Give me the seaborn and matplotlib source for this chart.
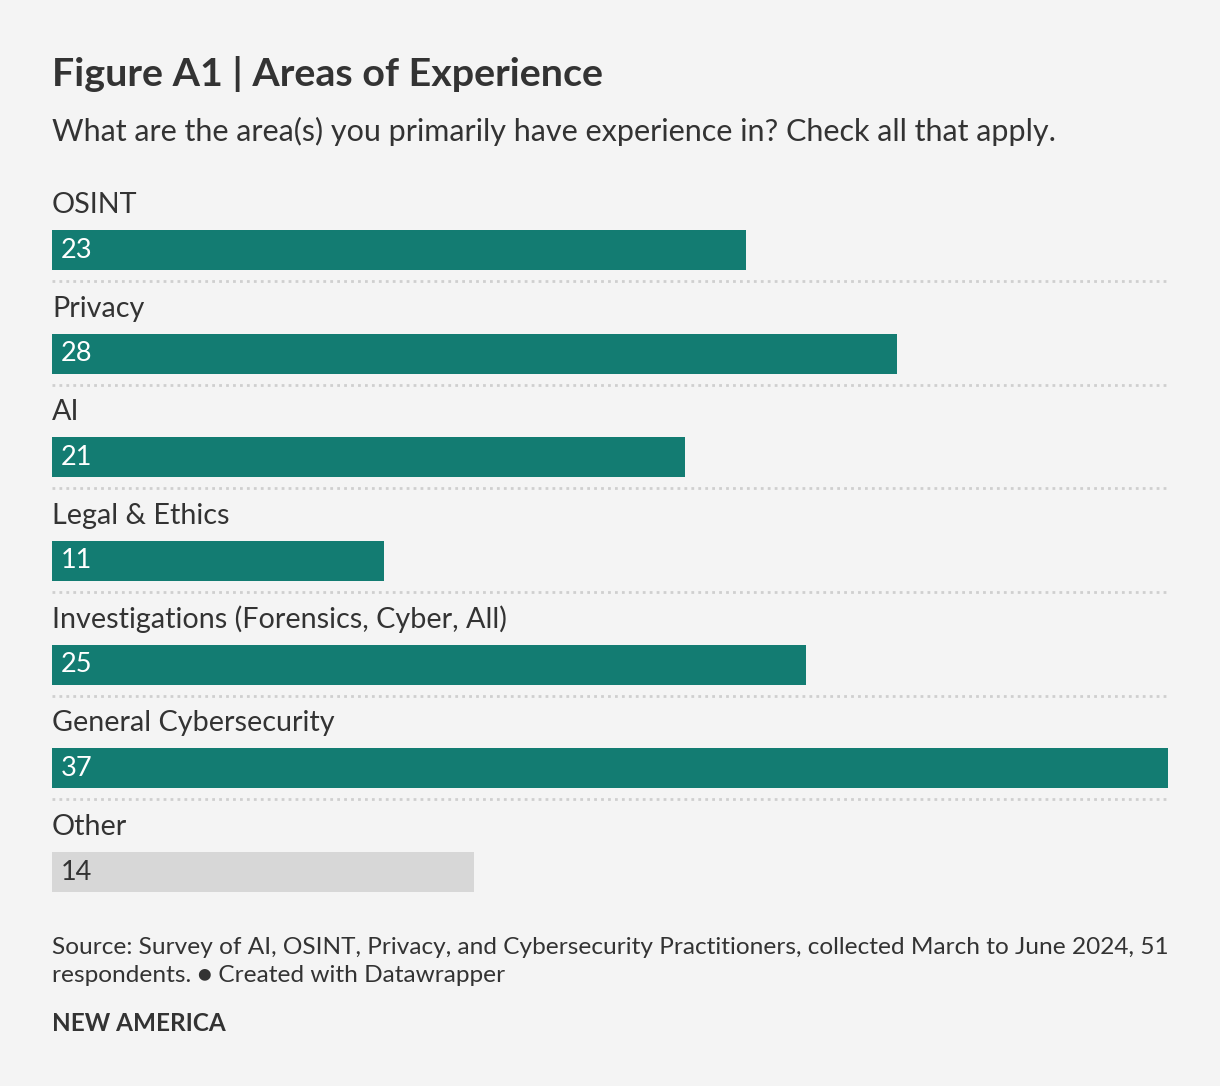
import numpy as np
import pandas as pd
import seaborn as sns
import matplotlib.pyplot as plt

categories = ["OSINT", "Privacy", "AI", "Legal & Ethics",
              "Investigations (Forensics, Cyber, All)", "General Cybersecurity", "Other"]
counts = [23, 28, 21, 11, 25, 37, 14]

TEAL = "#137C72"
GREY_BAR = "#D7D7D7"
BG = "#F4F4F4"
TEXT = "#333333"

W, H = 1220, 1086


def px(x, y):
    # pixel (top-left origin) -> figure fraction
    return x / W, 1 - y / H


def main():
    sns.set_theme(style="white")
    plt.rcParams["font.family"] = ["Lato", "DejaVu Sans"]

    df = pd.DataFrame({"cat": categories, "n": counts})
    colors = [GREY_BAR if c == "Other" else TEAL for c in categories]

    fig = plt.figure(figsize=(W / 100, H / 100), dpi=100, facecolor=BG)
    top, bottom = 160, 900
    u = 622 / 6  # pixels per row
    ax = fig.add_axes([52 / W, (H - bottom) / H, (1168 - 52) / W, (bottom - top) / H])
    ax.set_facecolor(BG)

    sns.barplot(data=df, x="n", y="cat", hue="cat", palette=colors, legend=False,
                orient="h", width=40 / u, saturation=1, linewidth=0, ax=ax)

    ax.set_xlim(0, 37)
    ax.set_ylim(6 + (bottom - 872) / u, -(250 - top) / u)
    ax.set_xlabel("")
    ax.set_ylabel("")
    ax.set_xticks([])
    ax.set_yticks([])
    for s in ax.spines.values():
        s.set_visible(False)

    for i, (cat, n) in enumerate(zip(categories, counts)):
        ax.text(0, i - 37 / u, cat, fontsize=20.7, color=TEXT, va="baseline", ha="left")
        lab_color = TEXT if cat == "Other" else "white"
        ax.text(0.3, i, str(n), fontsize=19.5, color=lab_color, va="center", ha="left")
        if i < len(categories) - 1:
            ax.axhline(i + 31 / u, color="#CFCFCF", lw=2, ls=(0, (1, 1.5)))

    fig.text(*px(52, 86), "Figure A1 | Areas of Experience", fontsize=28.4,
             fontweight="bold", color=TEXT)
    fig.text(*px(52, 141), "What are the area(s) you primarily have experience in? Check all that apply.",
             fontsize=22, color=TEXT)
    fig.text(*px(52, 954), "Source: Survey of AI, OSINT, Privacy, and Cybersecurity Practitioners, "
             "collected March to June 2024, 51", fontsize=17.6, color=TEXT)
    fig.text(*px(52, 982), "respondents. \u25CF Created with Datawrapper", fontsize=17.6, color=TEXT)
    fig.text(*px(52, 1031), "NEW AMERICA", fontsize=17.5, fontweight="bold", color=TEXT)

    plt.savefig("out.png", dpi=100, facecolor=BG)
    plt.close(fig)


if __name__ == "__main__":
    main()
